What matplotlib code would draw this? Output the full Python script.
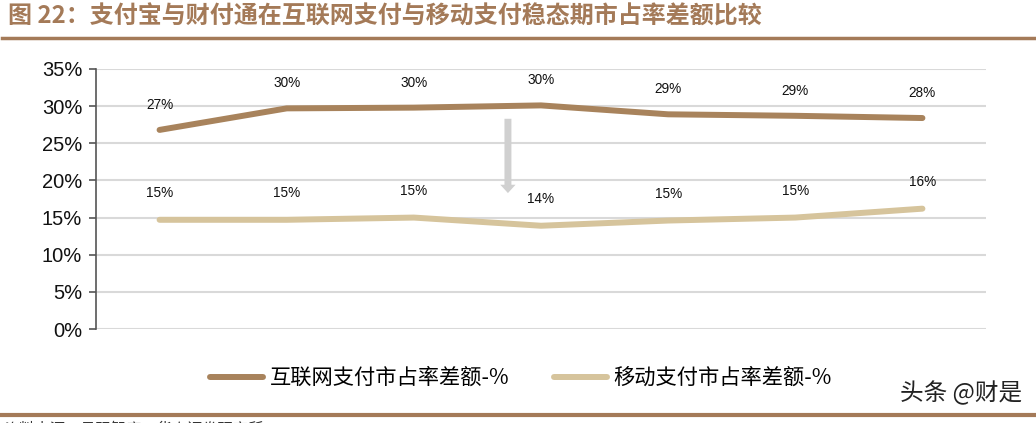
import numpy as np
import matplotlib.pyplot as plt
from matplotlib.lines import Line2D

plt.rcParams['font.family'] = ['Liberation Sans', 'Noto Sans CJK SC', 'DejaVu Sans']

# data
periods = ['P1', 'P2', 'P3', 'P4', 'P5', 'P6', 'P7']
internet_gap = [26.8, 29.7, 29.8, 30.1, 28.9, 28.7, 28.4]
mobile_gap = [14.7, 14.7, 15.0, 13.9, 14.6, 15.0, 16.2]
internet_name = '互联网支付市占率差额-%'
mobile_name = '移动支付市占率差额-%'
title = '图 22：支付宝与财付通在互联网支付与移动支付稳态期市占率差额比较'
source = '资料来源：易观智库，华泰证券研究所'
yticks = [0, 5, 10, 15, 20, 25, 30, 35]

dark = '#a8835c'
light = '#d6c49c'
brown = '#a47a58'
cjk = ['Noto Sans CJK SC', 'DejaVu Sans']

fig = plt.figure(figsize=(10.36, 4.23), dpi=100)
ax = fig.add_axes([96/1036, 1-329/423, 890/1036, 260/423])

x = np.arange(len(periods))
ax.plot(x, internet_gap, color=dark, lw=4.3, solid_capstyle='round', zorder=3)
ax.plot(x, mobile_gap, color=light, lw=4.3, solid_capstyle='round', zorder=3)

for xi, v in zip(x, internet_gap):
    ax.annotate(f'{v:.0f}%', (xi, v), xytext=(0, 18), textcoords='offset points',
                ha='center', va='center', fontsize=9.8, color='#111111')
for xi, v in zip(x, mobile_gap):
    ax.annotate(f'{v:.0f}%', (xi, v), xytext=(0, 19), textcoords='offset points',
                ha='center', va='center', fontsize=9.8, color='#111111')

# grey arrow between the two lines
ax.annotate('', xy=(2.74, 18.3), xytext=(2.74, 28.3),
            arrowprops=dict(arrowstyle='simple,head_length=0.6,head_width=1.1,tail_width=0.5',
                            color='#d0d0d0', lw=0, shrinkA=0, shrinkB=0))

ax.set_xlim(-0.5, len(periods) - 0.5)
ax.set_ylim(0, 35)
ax.set_yticks(yticks)
ax.set_yticklabels([f'{t}%' for t in yticks], fontsize=14.5, color='#111111')
ax.set_xticks([])
ax.yaxis.grid(True, color='#d9d9d9', lw=1.5)
ax.set_axisbelow(True)
for s in ['top', 'right', 'bottom']:
    ax.spines[s].set_visible(False)
ax.spines['left'].set_color('#555555')
ax.spines['left'].set_linewidth(1.2)
ax.tick_params(axis='y', length=5, width=1.2, color='#555555', pad=5)

handles = [Line2D([], [], color=dark, lw=4.3, solid_capstyle='round'),
           Line2D([], [], color=light, lw=4.3, solid_capstyle='round')]
fig.legend(handles, [internet_name, mobile_name], loc='center', bbox_to_anchor=(0.503, 1-378/423),
           ncol=2, frameon=False, handlelength=2.5, columnspacing=2.1, handletextpad=0.3,
           prop={'family': cjk, 'size': 15.3})

fig.text(8/1036, 1-17/423, title, fontsize=17.3, fontweight='bold', color=brown,
         family=cjk, ha='left', va='center')
fig.add_artist(Line2D([2/1036, 1034/1036], [1-38/423, 1-38/423], color=brown, lw=2.5))
fig.add_artist(Line2D([0, 1], [1-415/423, 1-415/423], color=brown, lw=3))
fig.text(4/1036, 1-429/423, source, fontsize=11, color='#333333', family=cjk,
         ha='left', va='center')
fig.text(1022/1036, 1-393/423, '头条 @财是', fontsize=17, color='#222222',
         family=cjk, ha='right', va='center')

fig.savefig('out.png', dpi=100)
